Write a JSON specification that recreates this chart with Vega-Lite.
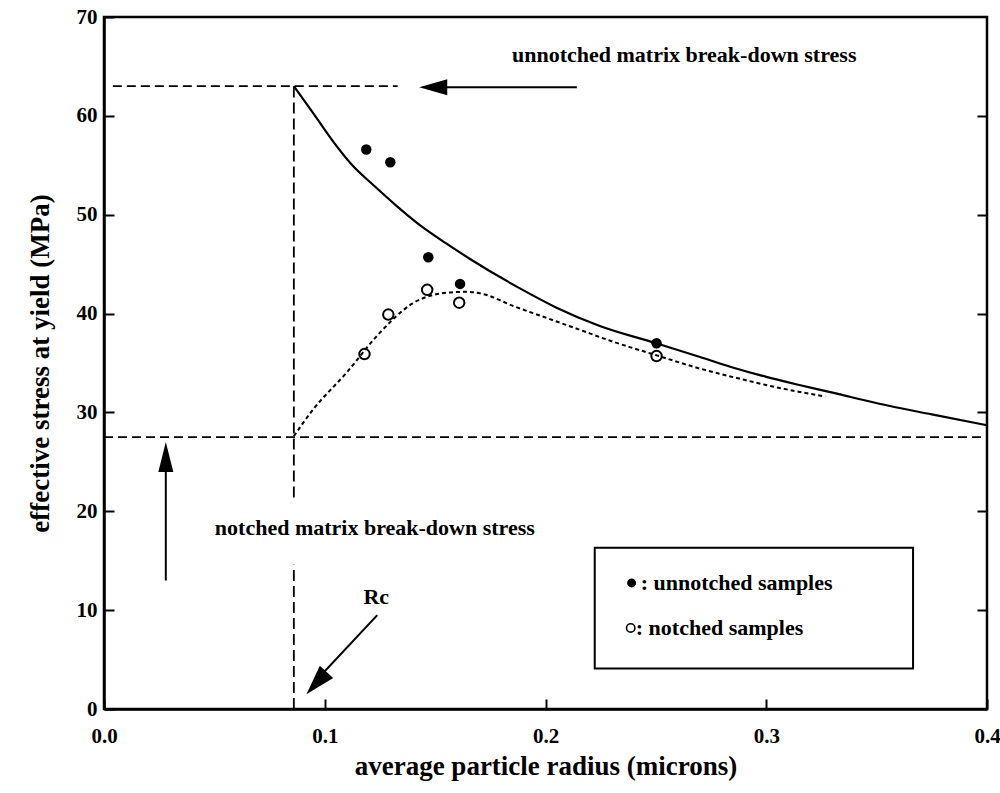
{
  "$schema": "https://vega.github.io/schema/vega-lite/v6.json",
  "width": 883,
  "height": 692,
  "autosize": {"type": "none"},
  "padding": {"left": 104, "top": 17, "right": 13, "bottom": 84},
  "background": "white",
  "config": {
    "font": "Liberation Serif",
    "view": {"stroke": "black", "strokeWidth": 2.5},
    "axis": {
      "domainColor": "black", "domainWidth": 2.5, "tickColor": "black", "tickWidth": 2,
      "tickSize": -10, "grid": false, "labelFlush": false,
      "labelFont": "Liberation Serif", "labelFontWeight": "bold", "labelFontSize": 21, "labelColor": "black",
      "titleFont": "Liberation Serif", "titleFontWeight": "bold", "titleFontSize": 27, "titleColor": "black"
    }
  },
  "datasets": {
    "legendbox": [{"r": 0.2223, "r2": 0.3665, "stress": 16.3, "stress2": 4.1}],
    "solid": [
      {"r": 0.086, "stress": 63.0}, {"r": 0.095, "stress": 60.2}, {"r": 0.1035, "stress": 57.5},
      {"r": 0.1125, "stress": 55.0}, {"r": 0.1225, "stress": 52.9}, {"r": 0.1325, "stress": 50.9},
      {"r": 0.1428, "stress": 49.0}, {"r": 0.155, "stress": 47.1}, {"r": 0.166, "stress": 45.5},
      {"r": 0.188, "stress": 42.6}, {"r": 0.205, "stress": 40.6}, {"r": 0.224, "stress": 38.8},
      {"r": 0.25, "stress": 37.0}, {"r": 0.27, "stress": 35.6}, {"r": 0.284, "stress": 34.6},
      {"r": 0.3, "stress": 33.6}, {"r": 0.3145, "stress": 32.8}, {"r": 0.33, "stress": 32.0},
      {"r": 0.3507, "stress": 30.9}, {"r": 0.375, "stress": 29.8}, {"r": 0.4, "stress": 28.7}
    ],
    "dotted": [
      {"r": 0.086, "stress": 27.6}, {"r": 0.0944, "stress": 30.2}, {"r": 0.1098, "stress": 34.0},
      {"r": 0.1247, "stress": 38.0}, {"r": 0.1396, "stress": 41.0}, {"r": 0.155, "stress": 42.1},
      {"r": 0.164, "stress": 42.2}, {"r": 0.173, "stress": 41.9}, {"r": 0.185, "stress": 40.8},
      {"r": 0.2, "stress": 39.6}, {"r": 0.215, "stress": 38.4}, {"r": 0.23, "stress": 37.2},
      {"r": 0.25, "stress": 35.8}, {"r": 0.269, "stress": 34.5}, {"r": 0.29, "stress": 33.3},
      {"r": 0.3055, "stress": 32.5}, {"r": 0.3145, "stress": 32.1}, {"r": 0.3267, "stress": 31.6}
    ],
    "samples": [
      {"r": 0.1188, "stress": 56.6, "type": "unnotched"},
      {"r": 0.1297, "stress": 55.3, "type": "unnotched"},
      {"r": 0.1469, "stress": 45.7, "type": "unnotched"},
      {"r": 0.1613, "stress": 43.0, "type": "unnotched"},
      {"r": 0.2503, "stress": 37.0, "type": "unnotched"},
      {"r": 0.118, "stress": 35.9, "type": "notched"},
      {"r": 0.1288, "stress": 39.9, "type": "notched"},
      {"r": 0.1464, "stress": 42.4, "type": "notched"},
      {"r": 0.1609, "stress": 41.1, "type": "notched"},
      {"r": 0.2503, "stress": 35.7, "type": "notched"}
    ],
    "dash63": [{"r": 0.004, "stress": 63.0}, {"r": 0.133, "stress": 63.0}],
    "dash27": [{"r": 0.0, "stress": 27.5}, {"r": 0.4, "stress": 27.5}],
    "dashv": [
      {"r": 0.086, "stress": 63.0, "seg": "a"}, {"r": 0.086, "stress": 21.4, "seg": "a"},
      {"r": 0.086, "stress": 14.6, "seg": "b"}, {"r": 0.086, "stress": 0.0, "seg": "b"}
    ],
    "arrowTopLine": [{"r": 0.2142, "stress": 62.9}, {"r": 0.15, "stress": 62.9}],
    "arrowTopHead": [{"r": 0.1428, "stress": 62.9}],
    "arrowUpLine": [{"r": 0.028, "stress": 13.0}, {"r": 0.028, "stress": 24.5}],
    "arrowUpHead": [{"r": 0.028, "stress": 27.0}],
    "arrowDiagLine": [{"r": 0.1238, "stress": 9.5}, {"r": 0.0945, "stress": 2.5}],
    "arrowDiagHead": [{"r": 0.0917, "stress": 1.5}],
    "notes": [
      {"r": 0.1848, "stress": 66.2, "label": "unnotched matrix break-down stress"},
      {"r": 0.0502, "stress": 18.3, "label": "notched matrix break-down stress"},
      {"r": 0.1175, "stress": 11.3, "label": "Rc"}
    ],
    "legendItems": [
      {"r": 0.239, "stress": 12.75, "type": "unnotched", "rt": 0.2431, "label": ": unnotched samples"},
      {"r": 0.2386, "stress": 8.2, "type": "notched", "rt": 0.2409, "label": ": notched samples"}
    ]
  },
  "layer": [
    {
      "data": {"name": "legendbox"},
      "mark": {"type": "rect", "fill": "white", "stroke": "black", "strokeWidth": 2},
      "encoding": {
        "x": {"field": "r", "type": "quantitative", "scale": {"domain": [0, 0.4], "nice": false, "zero": false}, "axis": null},
        "x2": {"field": "r2"},
        "y": {"field": "stress", "type": "quantitative", "scale": {"domain": [0, 70], "nice": false, "zero": false},
              "axis": {"orient": "right", "labels": false, "title": null, "domain": false, "values": [10, 20, 30, 40, 50, 60], "tickSize": -10}},
        "y2": {"field": "stress2"}
      }
    },
    {
      "encoding": {
        "x": {"field": "r", "type": "quantitative", "scale": {"domain": [0, 0.4], "nice": false, "zero": false},
              "axis": {"title": "average particle radius (microns)", "values": [0, 0.1, 0.2, 0.3, 0.4], "format": ".1f",
                       "labelPadding": 26, "titleY": 57, "titleBaseline": "middle"}},
        "y": {"field": "stress", "type": "quantitative", "scale": {"domain": [0, 70], "nice": false, "zero": false},
              "axis": {"title": "effective stress at yield (MPa)", "values": [0, 10, 20, 30, 40, 50, 60, 70], "format": "d",
                       "labelPadding": 17, "titleX": -64, "titleBaseline": "middle"}}
      },
      "layer": [
        {"data": {"name": "dash63"}, "mark": {"type": "line", "color": "black", "strokeWidth": 1.8, "strokeDash": [9, 5]}},
        {"data": {"name": "dash27"}, "mark": {"type": "line", "color": "black", "strokeWidth": 1.8, "strokeDash": [9, 5]}},
        {"data": {"name": "dashv"}, "mark": {"type": "line", "color": "black", "strokeWidth": 1.8, "strokeDash": [11, 5]},
         "encoding": {"detail": {"field": "seg"}, "order": {"field": "stress", "type": "quantitative"}}},
        {"data": {"name": "solid"}, "mark": {"type": "line", "color": "black", "strokeWidth": 2.2, "interpolate": "monotone"}},
        {"data": {"name": "dotted"}, "mark": {"type": "line", "color": "black", "strokeWidth": 2, "strokeDash": [4, 3], "interpolate": "monotone"}},
        {"data": {"name": "samples"}, "transform": [{"filter": "datum.type === 'unnotched'"}],
         "mark": {"type": "point", "shape": "circle", "filled": true, "color": "black", "opacity": 1, "size": 110}},
        {"data": {"name": "samples"}, "transform": [{"filter": "datum.type === 'notched'"}],
         "mark": {"type": "point", "shape": "circle", "filled": false, "stroke": "black", "strokeWidth": 2, "opacity": 1, "size": 110}},
        {"data": {"name": "arrowTopLine"}, "mark": {"type": "line", "color": "black", "strokeWidth": 2}},
        {"data": {"name": "arrowTopHead"}, "mark": {"type": "point", "shape": "M0,0L-0.57,2L0.57,2Z", "angle": -90, "filled": true, "color": "black", "opacity": 1, "size": 784}},
        {"data": {"name": "arrowUpLine"}, "mark": {"type": "line", "color": "black", "strokeWidth": 2}},
        {"data": {"name": "arrowUpHead"}, "mark": {"type": "point", "shape": "M0,0L-0.5,2L0.5,2Z", "angle": 0, "filled": true, "color": "black", "opacity": 1, "size": 900}},
        {"data": {"name": "arrowDiagLine"}, "mark": {"type": "line", "color": "black", "strokeWidth": 2}},
        {"data": {"name": "arrowDiagHead"}, "mark": {"type": "point", "shape": "M0,0L-0.6,2L0.6,2Z", "angle": 222, "filled": true, "color": "black", "opacity": 1, "size": 900}},
        {"data": {"name": "notes"}, "mark": {"type": "text", "align": "left", "baseline": "middle", "font": "Liberation Serif", "fontWeight": "bold", "fontSize": 22, "color": "black"},
         "encoding": {"text": {"field": "label"}}},
        {"data": {"name": "legendItems"}, "transform": [{"filter": "datum.type === 'unnotched'"}],
         "mark": {"type": "point", "shape": "circle", "filled": true, "color": "black", "opacity": 1, "size": 80}},
        {"data": {"name": "legendItems"}, "transform": [{"filter": "datum.type === 'notched'"}],
         "mark": {"type": "point", "shape": "circle", "filled": false, "stroke": "black", "strokeWidth": 1.6, "opacity": 1, "size": 70}},
        {"data": {"name": "legendItems"}, "mark": {"type": "text", "align": "left", "baseline": "middle", "font": "Liberation Serif", "fontWeight": "bold", "fontSize": 22, "color": "black"},
         "encoding": {"x": {"field": "rt", "type": "quantitative"}, "text": {"field": "label"}}}
      ]
    }
  ],
  "resolve": {"axis": {"x": "independent", "y": "independent"}}
}
